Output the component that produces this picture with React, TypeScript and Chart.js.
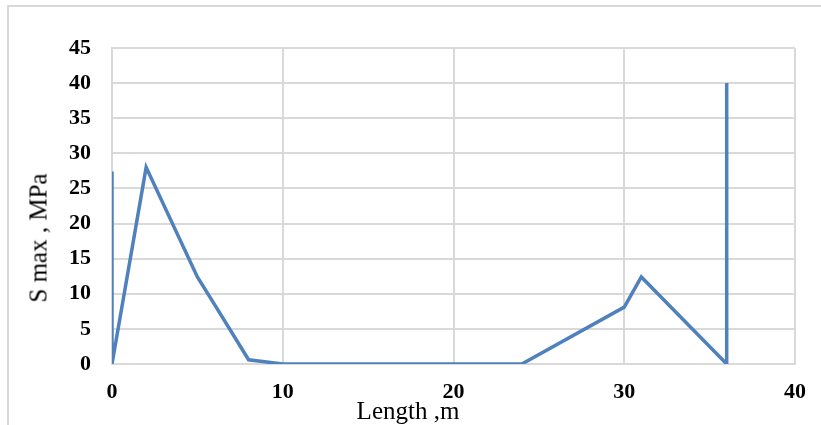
import React, { useEffect, useRef } from "react";
import { Chart, registerables } from "chart.js";

Chart.register(...registerables);

// Stress along the member: position (m) and maximum stress (MPa)
const lengthM = [0, 0, 2, 5, 6, 8, 10, 12, 14, 16, 18, 20, 22, 24, 30, 31, 36, 36];
const sMaxMPa = [27.4, 0, 28, 12.4, 8.5, 0.6, 0, 0, 0, 0, 0, 0, 0, 0, 8.1, 12.4, 0, 40];

const xTicks = [0, 10, 20, 30, 40];
const yTicks = [0, 5, 10, 15, 20, 25, 30, 35, 40, 45];

const xTitle = "Length ,m";
const yTitle = "S max , MPa";

const W = 821;
const H = 425;
const GRID = "#d9d9d9";
const LINE = "#4f81bd";
const SERIF = "'Liberation Serif', 'Times New Roman', serif";

export default function App() {
  const canvasRef = useRef<HTMLCanvasElement | null>(null);

  useEffect(() => {
    const canvas = canvasRef.current;
    if (!canvas) return;
    const points = lengthM.map((x, i) => ({ x, y: sMaxMPa[i] }));
    const chart = new Chart(canvas, {
      type: "scatter",
      data: {
        datasets: [
          {
            data: points,
            showLine: true,
            borderColor: LINE,
            backgroundColor: LINE,
            borderWidth: 3.5,
            pointRadius: 0,
            tension: 0,
          },
        ],
      },
      options: {
        animation: false,
        responsive: false,
        devicePixelRatio: 1,
        layout: { padding: { left: 0, top: 48, right: 21, bottom: 0 } },
        plugins: {
          legend: { display: false },
          tooltip: { enabled: false },
          title: { display: false },
        },
        scales: {
          x: {
            type: "linear",
            min: xTicks[0],
            max: xTicks[xTicks.length - 1],
            afterBuildTicks: (scale: any) => {
              scale.ticks = xTicks.map((v) => ({ value: v }));
            },
            afterFit: (scale: any) => {
              scale.height = 61;
            },
            grid: { color: GRID, lineWidth: 2, drawTicks: false },
            border: { display: true, color: GRID, width: 2 },
            ticks: {
              color: "#000",
              padding: 15,
              font: { family: SERIF, size: 22, weight: "bold" },
              maxRotation: 0,
            },
          },
          y: {
            type: "linear",
            min: yTicks[0],
            max: yTicks[yTicks.length - 1],
            afterBuildTicks: (scale: any) => {
              scale.ticks = yTicks.map((v) => ({ value: v }));
            },
            afterFit: (scale: any) => {
              scale.width = 112;
            },
            grid: { color: GRID, lineWidth: 2, drawTicks: false },
            border: { display: true, color: GRID, width: 2 },
            ticks: {
              color: "#000",
              padding: 21,
              font: { family: SERIF, size: 22, weight: "bold" },
            },
          },
        },
      },
    });
    return () => chart.destroy();
  }, []);

  return (
    <div
      style={{
        position: "fixed",
        left: 0,
        top: 0,
        width: W,
        height: H,
        background: "#fff",
        overflow: "hidden",
      }}
    >
      <div
        style={{
          position: "absolute",
          left: 7,
          top: 5,
          width: W,
          height: H,
          borderTop: `2px solid ${GRID}`,
          borderLeft: `2px solid ${GRID}`,
          boxSizing: "border-box",
        }}
      />
      <canvas
        ref={canvasRef}
        width={W}
        height={H}
        style={{ position: "absolute", left: 0, top: 0, width: W, height: H }}
      />
      <div
        style={{
          position: "absolute",
          left: 408,
          top: 410,
          transform: "translate(-50%, -50%)",
          fontFamily: SERIF,
          fontSize: 25,
          color: "#000",
          whiteSpace: "nowrap",
          lineHeight: 1,
        }}
      >
        {xTitle}
      </div>
      <div
        style={{
          position: "absolute",
          left: 38,
          top: 238,
          transform: "translate(-50%, -50%) rotate(-90deg)",
          fontFamily: SERIF,
          fontSize: 25,
          color: "#000",
          whiteSpace: "nowrap",
          lineHeight: 1,
        }}
      >
        {yTitle}
      </div>
    </div>
  );
}
